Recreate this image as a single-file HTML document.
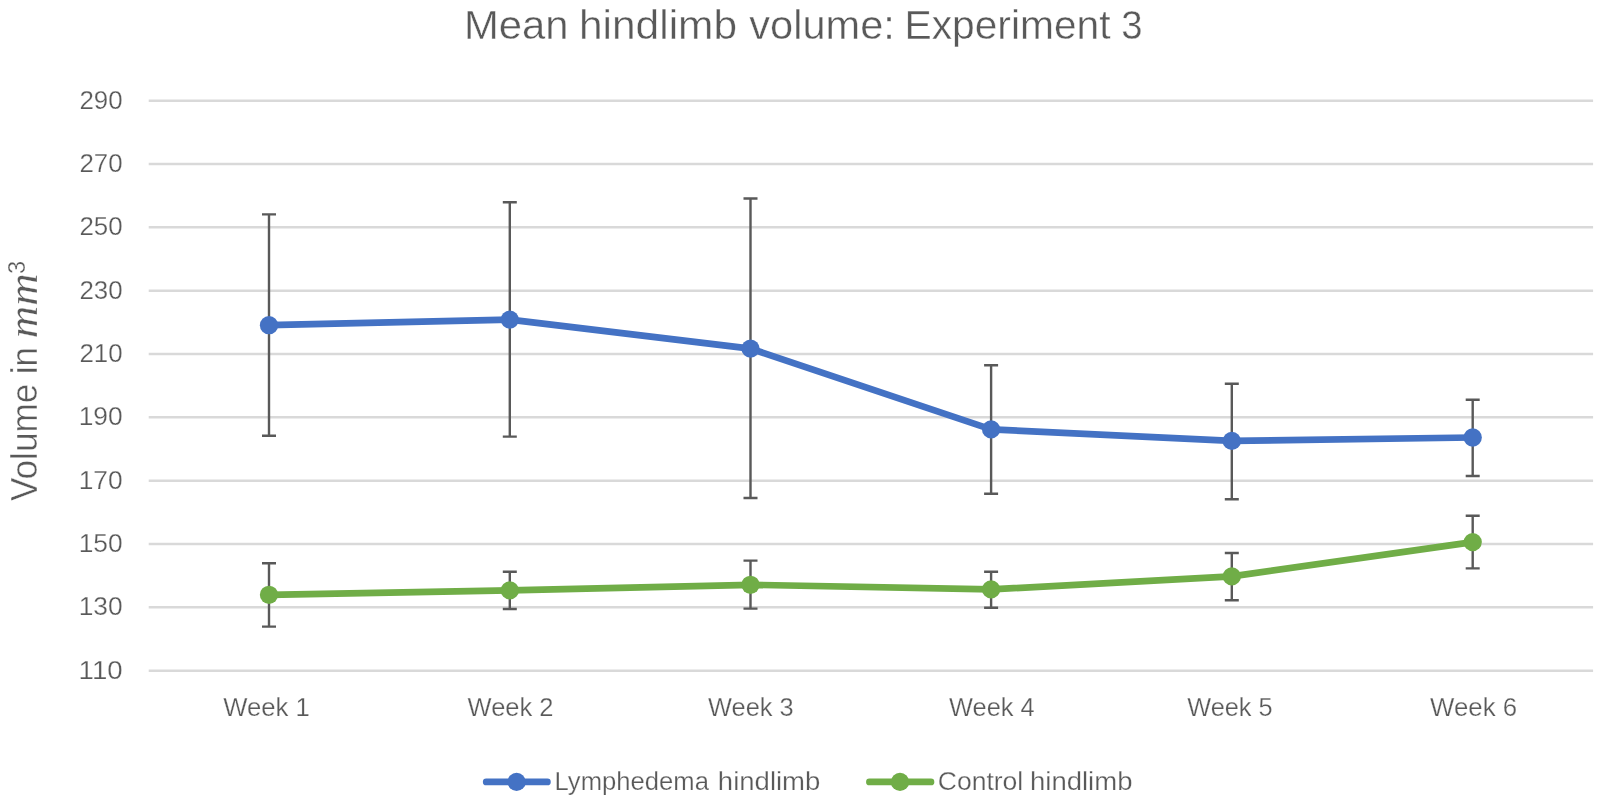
<!DOCTYPE html>
<html><head><meta charset="utf-8"><title>Mean hindlimb volume: Experiment 3</title>
<style>
html,body{margin:0;padding:0;background:#fff;}
body{width:1600px;height:805px;overflow:hidden;font-family:"Liberation Sans",sans-serif;}
svg{display:block;}
text{font-family:"Liberation Sans",sans-serif;fill:#595959;stroke:#fff;stroke-width:0.25px;}
.big{stroke-width:0.4px;}
.ser{font-family:"Liberation Serif",serif;font-style:italic;}
</style></head><body>
<svg width="1600" height="805" viewBox="0 0 1600 805" style="will-change:transform">
<rect x="0" y="0" width="1600" height="805" fill="#ffffff"/>

<g stroke="#D9D9D9" stroke-width="2.55" fill="none">
<line x1="148.7" y1="100.65" x2="1593.1" y2="100.65"/>
<line x1="148.7" y1="163.98" x2="1593.1" y2="163.98"/>
<line x1="148.7" y1="227.32" x2="1593.1" y2="227.32"/>
<line x1="148.7" y1="290.65" x2="1593.1" y2="290.65"/>
<line x1="148.7" y1="353.98" x2="1593.1" y2="353.98"/>
<line x1="148.7" y1="417.31" x2="1593.1" y2="417.31"/>
<line x1="148.7" y1="480.65" x2="1593.1" y2="480.65"/>
<line x1="148.7" y1="543.98" x2="1593.1" y2="543.98"/>
<line x1="148.7" y1="607.31" x2="1593.1" y2="607.31"/>
<line x1="148.7" y1="670.65" x2="1593.1" y2="670.65"/>
</g>
<text x="79.40" y="108.90" font-size="25.7" textLength="43.21" lengthAdjust="spacingAndGlyphs">290</text>
<text x="79.40" y="171.90" font-size="25.7" textLength="43.21" lengthAdjust="spacingAndGlyphs">270</text>
<text x="79.40" y="234.90" font-size="25.7" textLength="43.21" lengthAdjust="spacingAndGlyphs">250</text>
<text x="79.40" y="298.90" font-size="25.7" textLength="43.21" lengthAdjust="spacingAndGlyphs">230</text>
<text x="79.40" y="361.90" font-size="25.7" textLength="43.21" lengthAdjust="spacingAndGlyphs">210</text>
<text x="78.69" y="424.90" font-size="25.7" textLength="43.93" lengthAdjust="spacingAndGlyphs">190</text>
<text x="78.69" y="488.90" font-size="25.7" textLength="43.93" lengthAdjust="spacingAndGlyphs">170</text>
<text x="78.69" y="551.90" font-size="25.7" textLength="43.93" lengthAdjust="spacingAndGlyphs">150</text>
<text x="78.69" y="614.90" font-size="25.7" textLength="43.93" lengthAdjust="spacingAndGlyphs">130</text>
<text x="78.59" y="678.90" font-size="25.7" textLength="44.09" lengthAdjust="spacingAndGlyphs">110</text>
<text x="223.19" y="716.00" font-size="26" textLength="86.67" lengthAdjust="spacingAndGlyphs">Week 1</text>
<text x="467.59" y="716.00" font-size="26" textLength="85.99" lengthAdjust="spacingAndGlyphs">Week 2</text>
<text x="708.09" y="716.00" font-size="26" textLength="85.63" lengthAdjust="spacingAndGlyphs">Week 3</text>
<text x="949.09" y="716.00" font-size="26" textLength="85.66" lengthAdjust="spacingAndGlyphs">Week 4</text>
<text x="1187.29" y="716.00" font-size="26" textLength="85.37" lengthAdjust="spacingAndGlyphs">Week 5</text>
<text x="1430.09" y="716.00" font-size="26" textLength="87.05" lengthAdjust="spacingAndGlyphs">Week 6</text>
<text class="big" x="464.07" y="39.40" font-size="40.6" textLength="104.54" lengthAdjust="spacingAndGlyphs">Mean</text>
<text class="big" x="578.96" y="39.40" font-size="40.6" textLength="158.13" lengthAdjust="spacingAndGlyphs">hindlimb</text>
<text class="big" x="749.36" y="39.40" font-size="40.6" textLength="145.43" lengthAdjust="spacingAndGlyphs">volume:</text>
<text class="big" x="904.46" y="39.40" font-size="40.6" textLength="206.14" lengthAdjust="spacingAndGlyphs">Experiment</text>
<text class="big" x="1121.34" y="39.40" font-size="40.6" textLength="21.35" lengthAdjust="spacingAndGlyphs">3</text>
<g transform="translate(37,501) rotate(-90)">
<text class="big" x="0.05" y="0.00" font-size="36" textLength="117.22" lengthAdjust="spacingAndGlyphs">Volume</text>
<text class="big" x="126.77" y="0.00" font-size="36" textLength="27.09" lengthAdjust="spacingAndGlyphs">in</text>
<text class="ser" x="162.88" y="0.00" font-size="42" textLength="64.81" lengthAdjust="spacingAndGlyphs">mm</text>
<text x="227.10" y="-12.00" font-size="23" textLength="13.14" lengthAdjust="spacingAndGlyphs">3</text>
</g>
<g stroke="#595959" stroke-width="2.4" fill="none">
<path d="M262.0 214.4H276.0M262.0 435.7H276.0M269.0 214.4V435.7"/>
<path d="M502.8 202.3H516.8M502.8 436.6H516.8M509.8 202.3V436.6"/>
<path d="M743.5 198.5H757.5M743.5 498.0H757.5M750.5 198.5V498.0"/>
<path d="M984.1 365.3H998.1M984.1 493.8H998.1M991.1 365.3V493.8"/>
<path d="M1224.8 383.7H1238.8M1224.8 499.2H1238.8M1231.8 383.7V499.2"/>
<path d="M1465.7 399.7H1479.7M1465.7 476.0H1479.7M1472.7 399.7V476.0"/>
<path d="M262.0 563.2H276.0M262.0 626.6H276.0M269.0 563.2V626.6"/>
<path d="M502.8 571.8H516.8M502.8 609.0H516.8M509.8 571.8V609.0"/>
<path d="M743.5 560.6H757.5M743.5 608.6H757.5M750.5 560.6V608.6"/>
<path d="M984.1 571.8H998.1M984.1 607.8H998.1M991.1 571.8V607.8"/>
<path d="M1224.8 553.0H1238.8M1224.8 600.2H1238.8M1231.8 553.0V600.2"/>
<path d="M1465.7 515.7H1479.7M1465.7 568.4H1479.7M1472.7 515.7V568.4"/>
</g>
<path d="M269.0 325.2 L509.8 319.6 L750.5 348.6 L991.1 429.4 L1231.8 440.9 L1472.7 437.5" stroke="#4472C4" stroke-width="6.7" fill="none" stroke-linejoin="round" stroke-linecap="round"/>
<g fill="#4472C4"><circle cx="269.0" cy="325.2" r="9.15"/><circle cx="509.8" cy="319.6" r="9.15"/><circle cx="750.5" cy="348.6" r="9.15"/><circle cx="991.1" cy="429.4" r="9.15"/><circle cx="1231.8" cy="440.9" r="9.15"/><circle cx="1472.7" cy="437.5" r="9.15"/></g>
<path d="M269.0 594.8 L509.8 590.4 L750.5 584.8 L991.1 589.4 L1231.8 576.4 L1472.7 542.1" stroke="#70AD47" stroke-width="6.7" fill="none" stroke-linejoin="round" stroke-linecap="round"/>
<g fill="#70AD47"><circle cx="269.0" cy="594.8" r="9.15"/><circle cx="509.8" cy="590.4" r="9.15"/><circle cx="750.5" cy="584.8" r="9.15"/><circle cx="991.1" cy="589.4" r="9.15"/><circle cx="1231.8" cy="576.4" r="9.15"/><circle cx="1472.7" cy="542.1" r="9.15"/></g>
<line x1="486.2" y1="781.9" x2="547.4" y2="781.9" stroke="#4472C4" stroke-width="6.7" stroke-linecap="round"/><circle cx="516.6" cy="781.9" r="9.15" fill="#4472C4"/>
<text x="554.55" y="789.50" font-size="26" textLength="154.35" lengthAdjust="spacingAndGlyphs">Lymphedema</text>
<text x="717.89" y="789.50" font-size="26" textLength="102.46" lengthAdjust="spacingAndGlyphs">hindlimb</text>
<line x1="869.4" y1="781.9" x2="931" y2="781.9" stroke="#70AD47" stroke-width="6.7" stroke-linecap="round"/><circle cx="900" cy="781.9" r="9.15" fill="#70AD47"/>
<text x="937.75" y="789.50" font-size="26" textLength="85.52" lengthAdjust="spacingAndGlyphs">Control</text>
<text x="1029.99" y="789.50" font-size="26" textLength="102.46" lengthAdjust="spacingAndGlyphs">hindlimb</text>
</svg></body></html>
